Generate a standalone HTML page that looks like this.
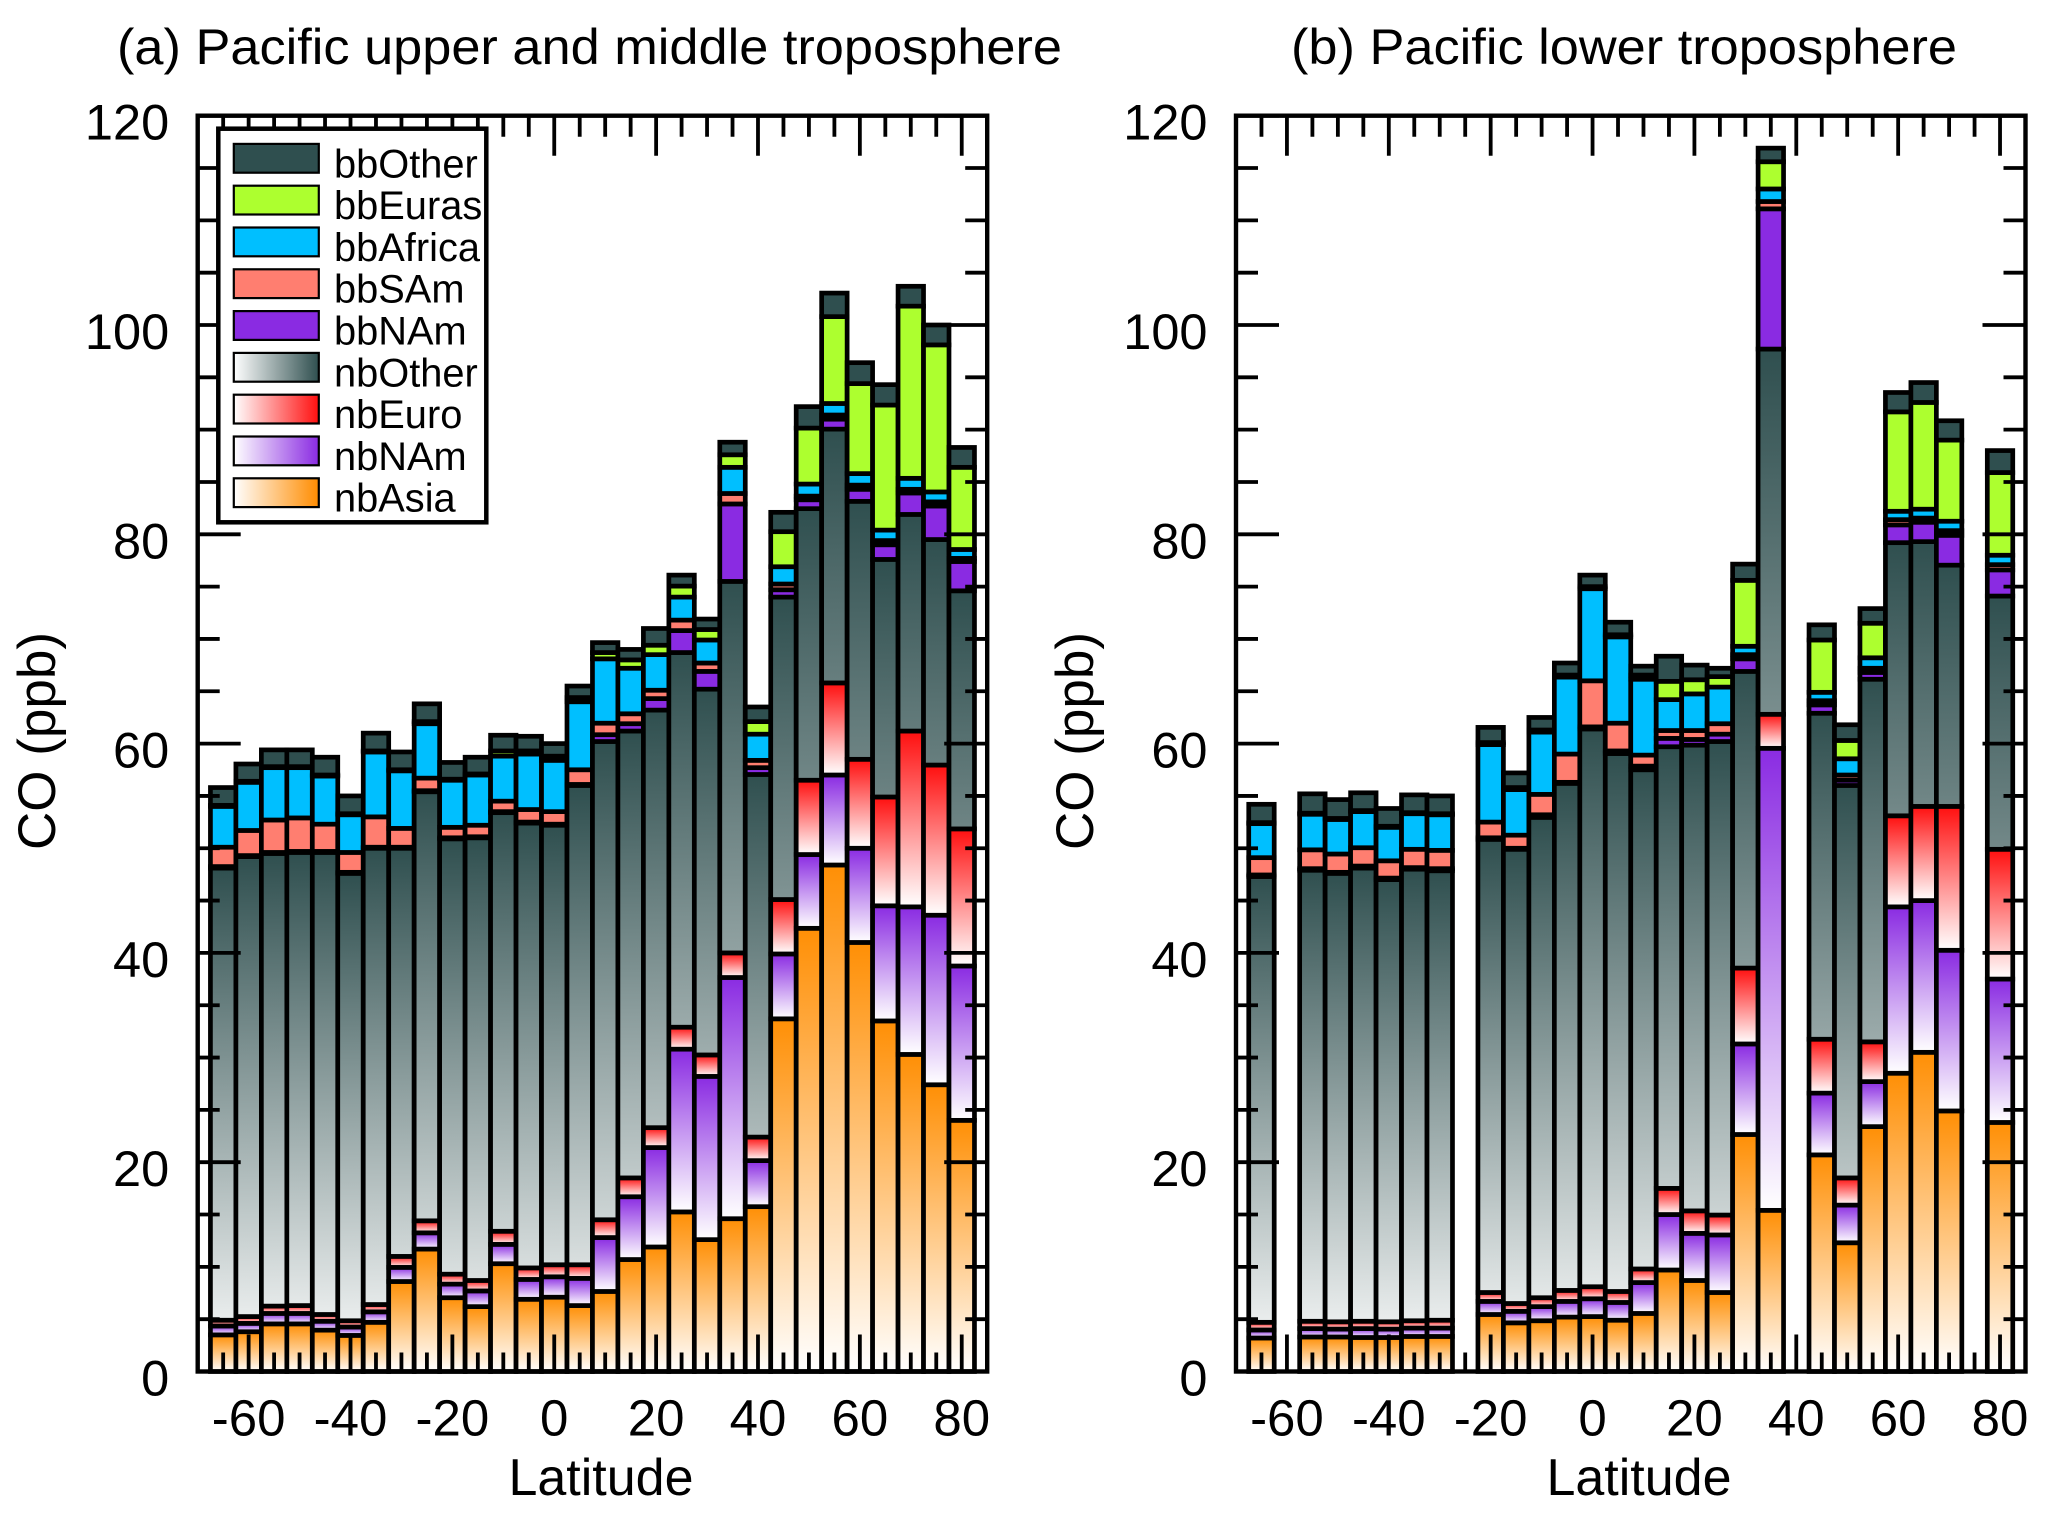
<!DOCTYPE html>
<html lang="en">
<head>
<meta charset="utf-8">
<title>CO by latitude over the Pacific</title>
<style>
html,body{margin:0;padding:0;background:#fff;}
svg{display:block;}
text{font-family:"Liberation Sans",Arial,sans-serif;fill:#000;}
</style>
</head>
<body>
<svg id="chart" xmlns="http://www.w3.org/2000/svg" width="2067" height="1523" viewBox="0 0 2067 1523">
  <defs>
    <linearGradient id="leg-nbOther" x1="0" x2="1" y1="0" y2="0"><stop offset="0" stop-color="#ffffff"/><stop offset="1" stop-color="#2f4f4f"/></linearGradient>
    <linearGradient id="leg-nbEuro" x1="0" x2="1" y1="0" y2="0"><stop offset="0" stop-color="#ffffff"/><stop offset="1" stop-color="#ff0f0f"/></linearGradient>
    <linearGradient id="leg-nbNAm" x1="0" x2="1" y1="0" y2="0"><stop offset="0" stop-color="#ffffff"/><stop offset="1" stop-color="#8a2be2"/></linearGradient>
    <linearGradient id="leg-nbAsia" x1="0" x2="1" y1="0" y2="0"><stop offset="0" stop-color="#ffffff"/><stop offset="1" stop-color="#ff8c00"/></linearGradient>
  </defs>

  <text x="117" y="64" font-size="50" textLength="945" lengthAdjust="spacingAndGlyphs">(a) Pacific upper and middle troposphere</text>
  <text x="1291" y="64" font-size="50" textLength="666" lengthAdjust="spacingAndGlyphs">(b) Pacific lower troposphere</text>

  <text transform="translate(55,741) rotate(-90)" text-anchor="middle" font-size="53">CO (ppb)</text>
  <text transform="translate(1093,741) rotate(-90)" text-anchor="middle" font-size="53">CO (ppb)</text>
  <text x="601" y="1495" text-anchor="middle" font-size="52">Latitude</text>
  <text x="1639" y="1495" text-anchor="middle" font-size="52">Latitude</text>

  <g id="panel-a"></g>
  <g id="panel-b"></g>

  <g>
    <rect x="218.3" y="128.7" width="268" height="393.6" fill="#fff" stroke="#000" stroke-width="4.5"/>
    <g><rect x="233.8" y="143.9" width="85" height="28.8" fill="#2f4f4f" stroke="#000" stroke-width="2.2"/><text x="334" y="177.3" font-size="39.8">bbOther</text></g>
    <g><rect x="233.8" y="185.7" width="85" height="28.8" fill="#adff2f" stroke="#000" stroke-width="2.2"/><text x="334" y="219.1" font-size="39.8">bbEuras</text></g>
    <g><rect x="233.8" y="227.5" width="85" height="28.8" fill="#00bfff" stroke="#000" stroke-width="2.2"/><text x="334" y="260.9" font-size="39.8">bbAfrica</text></g>
    <g><rect x="233.8" y="269.3" width="85" height="28.8" fill="#ff7e70" stroke="#000" stroke-width="2.2"/><text x="334" y="302.7" font-size="39.8">bbSAm</text></g>
    <g><rect x="233.8" y="311.1" width="85" height="28.8" fill="#8a2be2" stroke="#000" stroke-width="2.2"/><text x="334" y="344.5" font-size="39.8">bbNAm</text></g>
    <g><rect x="233.8" y="352.9" width="85" height="28.8" fill="url(#leg-nbOther)" stroke="#000" stroke-width="2.2"/><text x="334" y="386.3" font-size="39.8">nbOther</text></g>
    <g><rect x="233.8" y="394.7" width="85" height="28.8" fill="url(#leg-nbEuro)" stroke="#000" stroke-width="2.2"/><text x="334" y="428.1" font-size="39.8">nbEuro</text></g>
    <g><rect x="233.8" y="436.5" width="85" height="28.8" fill="url(#leg-nbNAm)" stroke="#000" stroke-width="2.2"/><text x="334" y="469.9" font-size="39.8">nbNAm</text></g>
    <g><rect x="233.8" y="478.3" width="85" height="28.8" fill="url(#leg-nbAsia)" stroke="#000" stroke-width="2.2"/><text x="334" y="511.7" font-size="39.8">nbAsia</text></g>
  </g>
</svg>

<script>
// Categories and tick labels
const latitudes = [-65,-60,-55,-50,-45,-40,-35,-30,-25,-20,-15,-10,-5,0,5,10,15,20,25,30,35,40,45,50,55,60,65,70,75,80];
const xTickLabels = [-60,-40,-20,0,20,40,60,80];
const yTickLabels = [0,20,40,60,80,100,120];

// Panel (a) Pacific upper and middle troposphere, ppb per source
const aNbAsia  = [3.5,3.8,4.55,4.55,3.95,3.45,4.7,8.6,11.7,7.05,6.2,10.3,6.9,7.1,6.3,7.65,10.7,11.9,15.25,12.6,14.6,15.75,33.7,42.35,48.4,41,33.5,30.3,27.4,24];
const aNbNAm   = [.85,.8,1,1,.85,.8,1,1.35,1.55,1.3,1.5,1.85,1.9,1.95,2.6,5.15,6,9.5,15.55,15.6,23.05,4.4,6.2,7.05,8.6,9,11,14.1,16.2,14.75];
const aNbEuro  = [.55,.65,.7,.75,.65,.6,.7,1.05,1.15,.95,1,1.25,1.1,1.15,1.3,1.7,1.8,1.9,2.1,2.05,2.35,2.25,5.2,7.1,8.8,8.5,10.4,16.8,14.35,13.1];
const aNbOther = [43.2,43.95,43.25,43.3,44.15,42.75,43.6,39,41,41.6,42.3,40,42.5,42,45.8,45.7,42.7,39.9,35.8,34.95,35.5,34.65,28.9,25.95,24.25,24.65,22.7,20.7,21.55,22.75];
const aBbNAm   = [.15,.1,.1,.1,.1,.1,.1,.1,.1,.1,.1,.1,.1,.1,.1,.65,.7,1.1,2.1,1.7,7.4,.65,.7,.85,.95,1.15,1.4,2.05,3.2,2.8];
const aBbSAm   = [1.85,2.4,3.1,3.2,2.6,1.9,2.9,1.8,1.2,1,1.1,1,1.2,1.2,1.4,1.1,.95,.8,1,.8,1,.7,.55,.35,.4,.4,.4,.35,.4,.3];
const aBbAfrica= [3.9,4.6,5,4.8,4.6,3.6,6.2,5.5,5.2,4.5,4.8,4.3,5.3,4.9,6.5,6.15,4.35,3.4,2.2,2.2,2.5,2.5,1.65,1.15,1.1,1.1,1,1.05,.95,.85];
const aBbEuras = [.1,.1,.1,.1,.1,.1,.1,.1,.2,.1,.1,.5,.3,.4,.4,.6,.8,.9,1.05,1,1.2,1.2,3.35,5.35,8.3,8.6,11.95,16.45,14.05,7.85];
const aBbOther = [1.7,1.65,1.6,1.6,1.7,1.7,1.7,1.7,1.7,1.6,1.6,1.5,1.4,1.2,1.1,.95,1,1.6,1.05,1,1.2,1.4,1.85,2.05,2.25,2,1.95,1.9,1.9,1.9];

// Panel (b) Pacific lower troposphere, ppb per source (null = no data)
const bNbAsia  = [3.2,null,3.3,3.3,3.25,3.25,3.35,3.35,null,5.45,4.65,4.85,5.2,5.25,4.9,5.55,9.7,8.7,7.55,22.65,15.4,null,20.7,12.3,23.4,28.5,30.5,24.9,null,23.8];
const bNbNAm   = [.77,null,.8,.75,.85,.8,.8,.8,null,1.25,1.1,1.35,1.5,1.7,1.7,2.95,5.3,4.5,5.5,8.65,44.15,null,5.9,3.6,4.3,15.9,14.5,15.35,null,13.7];
const bNbEuro  = [.73,null,.7,.7,.7,.7,.7,.75,null,.85,.75,.85,1.05,1.15,1.05,1.3,2.5,2.15,1.9,7.25,3.25,null,5.15,2.6,3.8,8.7,9,13.75,null,12.4];
const bNbOther = [42.6,null,43.1,42.85,43.3,42.25,43.15,42.95,null,43.3,43.4,45.9,48.45,53.3,51.4,47.7,42.2,44.5,45.25,28.35,34.9,null,31.15,37.5,34.65,26.1,25.3,23.05,null,24.2];
const bBbNAm   = [.15,null,.15,.1,.2,.15,.15,.2,null,.15,.1,.25,.1,.2,.25,.35,.8,.55,.7,1.2,13.4,null,.8,.5,.65,1.7,1.85,2.85,null,2.5];
const bBbSAm   = [1.65,null,1.8,1.75,1.75,1.65,1.75,1.75,null,1.5,1.25,1.95,2.7,4.4,2.65,1.05,.75,.85,1,.4,.7,null,.4,.5,.4,.5,.4,.45,null,.5];
const bBbAfrica= [3.25,null,3.4,3.3,3.45,3.2,3.4,3.4,null,7.4,4.35,5.95,7.35,8.8,8.25,7.25,2.95,3.5,3.5,.8,1.2,null,.8,1.55,1,.8,.85,.9,null,.9];
const bBbEuras = [.1,null,.1,.1,.1,.1,.1,.1,null,.2,.2,.2,.2,.2,.2,.4,1.75,1.35,1,6.3,2.6,null,5,1.75,3.3,9.5,10.2,7.75,null,7.9];
const bBbOther = [1.75,null,1.85,1.8,1.7,1.7,1.7,1.7,null,1.45,1.4,1.2,1.15,1.1,1.2,.85,2.4,1.4,.8,1.55,1.3,null,1.45,1.5,1.4,1.85,1.9,1.85,null,2.1];

const SVG_NS = 'http://www.w3.org/2000/svg';
const chart = document.getElementById('chart');
const defs = chart.querySelector('defs');

const plotTop = 115.7, plotBottom = 1371.5, plotWidth = 789.5;
const latMin = -70, latMax = 85, coMax = 120;

function yScale(v) {
  return plotBottom - (v / coMax) * (plotBottom - plotTop);
}
function xScale(lat, left) {
  return left + ((lat - latMin) / (latMax - latMin)) * plotWidth;
}
function make(tag, attrs) {
  const el = document.createElementNS(SVG_NS, tag);
  for (const k in attrs) el.setAttribute(k, attrs[k]);
  return el;
}

let gradCount = 0;
function verticalGradient(color, yTop, yBottom) {
  const id = 'grad-' + (++gradCount);
  const g = make('linearGradient', {id: id, gradientUnits: 'userSpaceOnUse', x1: 0, x2: 0, y1: yTop, y2: yBottom});
  g.appendChild(make('stop', {offset: 0, 'stop-color': color}));
  g.appendChild(make('stop', {offset: 1, 'stop-color': '#ffffff'}));
  defs.appendChild(g);
  return 'url(#' + id + ')';
}

function drawPanel(panelId, left, stack) {
  const root = document.getElementById(panelId);
  const bars = make('g', {});
  
  
  root.appendChild(bars);

  latitudes.forEach(function (lat, i) {
    if (stack[0].values[i] === null) return;
    const x0 = xScale(lat - 2.5, left);
    const x1 = xScale(lat + 2.5, left);
    let base = 0;
    stack.forEach(function (s) {
      const v = s.values[i];
      const top = base + v;
      const yTop = yScale(top);
      const yBase = yScale(base);
      let fill = s.color;
      if (s.fade === 'segment') fill = verticalGradient(s.color, yTop, yBase);
      if (s.fade === 'zero') fill = verticalGradient(s.color, yTop, yScale(0));
      const r = make('rect', {x: x0, y: yTop, width: x1 - x0, height: Math.max(yBase - yTop, 0), fill: fill, stroke: '#000', 'stroke-width': 4.7});
      
      
      bars.appendChild(r);
      base = top;
    });
  });

  const right = left + plotWidth;
  const axes = make('g', {stroke: '#000', 'stroke-width': 3.8, fill: 'none'});
  
  
  root.appendChild(axes);

  for (let v = 0; v <= coMax; v += 5) {
    const len = v % 20 === 0 ? 43 : 22;
    const y = yScale(v);
    const l = make('path', {d: 'M' + left + ' ' + y + 'h' + len + 'M' + right + ' ' + y + 'h' + (-len)});
    
    
    axes.appendChild(l);
  }
  for (let lat = -65; lat <= 80; lat += 5) {
    const major = lat % 20 === 0;
    const x = xScale(lat, left);
    const l = make('path', {d: 'M' + x + ' ' + plotBottom + 'v' + (major ? -37 : -19) + 'M' + x + ' ' + plotTop + 'v' + (major ? 40 : 21)});
    
    
    axes.appendChild(l);
  }
  const frame = make('rect', {x: left, y: plotTop, width: plotWidth, height: plotBottom - plotTop, 'stroke-width': 4.4});
  
  
  axes.appendChild(frame);

  yTickLabels.forEach(function (v) {
    const t = make('text', {x: left - 28.5, y: yScale(v) + 24, 'text-anchor': 'end', 'font-size': 50.5});
    
    
    t.textContent = String(v);
    root.appendChild(t);
  });
  xTickLabels.forEach(function (lat) {
    const t = make('text', {x: xScale(lat, left), y: 1435.5, 'text-anchor': 'middle', 'font-size': 51});
    
    
    t.textContent = String(lat);
    root.appendChild(t);
  });
}

drawPanel('panel-a', 197.7, [
  {name: 'nbAsia',   values: aNbAsia,   color: '#ff8f05', fade: 'segment'},
  {name: 'nbNAm',    values: aNbNAm,    color: '#8a2be2', fade: 'segment'},
  {name: 'nbEuro',   values: aNbEuro,   color: '#ff0f0f', fade: 'segment'},
  {name: 'nbOther',  values: aNbOther,  color: '#2f4f4f', fade: 'zero'},
  {name: 'bbNAm',    values: aBbNAm,    color: '#8a2be2'},
  {name: 'bbSAm',    values: aBbSAm,    color: '#ff7e70'},
  {name: 'bbAfrica', values: aBbAfrica, color: '#00bfff'},
  {name: 'bbEuras',  values: aBbEuras,  color: '#adff2f'},
  {name: 'bbOther',  values: aBbOther,  color: '#2f4f4f'}
]);
drawPanel('panel-b', 1236, [
  {name: 'nbAsia',   values: bNbAsia,   color: '#ff8f05', fade: 'segment'},
  {name: 'nbNAm',    values: bNbNAm,    color: '#8a2be2', fade: 'segment'},
  {name: 'nbEuro',   values: bNbEuro,   color: '#ff0f0f', fade: 'segment'},
  {name: 'nbOther',  values: bNbOther,  color: '#2f4f4f', fade: 'zero'},
  {name: 'bbNAm',    values: bBbNAm,    color: '#8a2be2'},
  {name: 'bbSAm',    values: bBbSAm,    color: '#ff7e70'},
  {name: 'bbAfrica', values: bBbAfrica, color: '#00bfff'},
  {name: 'bbEuras',  values: bBbEuras,  color: '#adff2f'},
  {name: 'bbOther',  values: bBbOther,  color: '#2f4f4f'}
]);
</script>
</body>
</html>
